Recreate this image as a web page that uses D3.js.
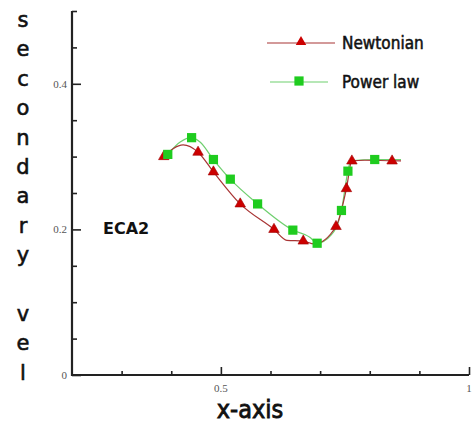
<!DOCTYPE html>
<html>
<head>
<meta charset="utf-8">
<script src="https://cdn.jsdelivr.net/npm/d3@7"></script>
<style>
  body { margin: 0; background: #fff; }
  svg { display: block; }
</style>
</head>
<body>
<div id="chart"></div>
<script>
// markers
const newtX = [0.385, 0.454, 0.485, 0.539, 0.607, 0.666, 0.732, 0.753, 0.764, 0.845];
const newtY = [0.300, 0.306, 0.279, 0.235, 0.200, 0.184, 0.204, 0.256, 0.294, 0.294];
const powX = [0.393, 0.441, 0.485, 0.519, 0.574, 0.645, 0.694, 0.743, 0.756, 0.810];
const powY = [0.303, 0.326, 0.296, 0.269, 0.235, 0.199, 0.181, 0.226, 0.280, 0.296];

// the curves behind the markers are denser than the markers
const newtLineX = [0.385, 0.424, 0.454, 0.485, 0.539, 0.607, 0.633, 0.666, 0.688, 0.732, 0.753, 0.764, 0.790, 0.863];
const newtLineY = [0.300, 0.316, 0.306, 0.279, 0.235, 0.200, 0.185, 0.184, 0.180, 0.204, 0.256, 0.294, 0.295, 0.294];
const powLineX = [0.393, 0.418, 0.441, 0.458, 0.485, 0.519, 0.574, 0.645, 0.680, 0.694, 0.722, 0.743, 0.756, 0.762, 0.810, 0.863];
const powLineY = [0.303, 0.320, 0.326, 0.320, 0.296, 0.269, 0.235, 0.199, 0.189, 0.181, 0.192, 0.226, 0.280, 0.294, 0.296, 0.296];

const xMajor = [0.5, 1];
const xMinor = [0.3, 0.4, 0.6, 0.7, 0.8, 0.9];
const yMajor = [0, 0.2, 0.4];
const yMinor = [0.05, 0.1, 0.15, 0.25, 0.3, 0.35, 0.45, 0.5];

const seriesNames = ["Newtonian", "Power law"];
const yTitle = "secondary vel";
const xTitle = "x-axis";
const caseLabel = "ECA2";

const W = 474, H = 431;
const x = d3.scaleLinear().domain([0.2, 1]).range([72, 469]);
const y = d3.scaleLinear().domain([0, 0.5]).range([375, 11]);

const svg = d3.select("#chart").append("svg")
  .attr("width", W)
  .attr("height", H);

const red = "#a83434", redFill = "#cc0000";
const green = "#6fcf6f", greenFill = "#1fcc1f";
const ink = "#222";

// axes
const xAx = svg.append("g").attr("transform", `translate(0,${y(0)})`);
xAx.call(d3.axisTop(x).tickValues(xMajor).tickSize(8).tickFormat(""));
xAx.call(g => g.append("g").call(d3.axisTop(x).tickValues(xMinor).tickSize(4).tickFormat("")));
xAx.selectAll(".domain").remove();
xAx.append("line").attr("x1", x(0.2) - 1).attr("x2", x(1)).attr("stroke", ink).attr("stroke-width", 2.2);
xAx.selectAll(".tick line").attr("stroke", ink).attr("stroke-width", 1.6);
xAx.selectAll(".xlab").data(xMajor).enter().append("text")
  .attr("x", d => x(d))
  .attr("y", 17)
  .attr("text-anchor", "middle")
  .attr("font-family", "Liberation Serif, serif")
  .attr("font-size", 11)
  .attr("fill", "#555")
  .text(d => d3.format("")(d));

const yAx = svg.append("g").attr("transform", `translate(${x(0.2)},0)`);
yAx.call(d3.axisRight(y).tickValues(yMajor).tickSize(9).tickFormat(""));
yAx.call(g => g.append("g").call(d3.axisRight(y).tickValues(yMinor).tickSize(5).tickFormat("")));
yAx.selectAll(".domain").remove();
yAx.append("line").attr("y1", y(0.5)).attr("y2", y(0) + 1).attr("stroke", ink).attr("stroke-width", 2.2);
yAx.selectAll(".tick line").attr("stroke", ink).attr("stroke-width", 1.6);
yAx.selectAll(".ylab").data(yMajor).enter().append("text")
  .attr("x", -5)
  .attr("y", d => y(d) + 4)
  .attr("text-anchor", "end")
  .attr("font-family", "Liberation Serif, serif")
  .attr("font-size", 11)
  .attr("fill", "#555")
  .text(d => d3.format("")(d));

// curves
const line = d3.line().x(d => x(d[0])).y(d => y(d[1])).curve(d3.curveMonotoneX);

svg.append("path")
  .datum(d3.zip(powLineX, powLineY))
  .attr("fill", "none")
  .attr("stroke", green)
  .attr("stroke-width", 1.2)
  .attr("d", line);

svg.append("path")
  .datum(d3.zip(newtLineX, newtLineY))
  .attr("fill", "none")
  .attr("stroke", red)
  .attr("stroke-width", 1.2)
  .attr("d", line);

const tri = d3.symbol().type(d3.symbolTriangle).size(48);
const sq = d3.symbol().type(d3.symbolSquare).size(85);

svg.selectAll(".tri").data(d3.zip(newtX, newtY)).enter().append("path")
  .attr("class", "tri")
  .attr("transform", d => `translate(${x(d[0])},${y(d[1])})`)
  .attr("d", tri)
  .attr("fill", redFill)
  .attr("stroke", "#a00000")
  .attr("stroke-width", 0.6);

svg.selectAll(".sq").data(d3.zip(powX, powY)).enter().append("path")
  .attr("class", "sq")
  .attr("transform", d => `translate(${x(d[0])},${y(d[1])})`)
  .attr("d", sq)
  .attr("fill", greenFill);

// legend
const leg = svg.append("g");
const legRows = [
  { name: seriesNames[0], x1: 267, x2: 335, cy: 43, stroke: red, sym: tri, fill: redFill },
  { name: seriesNames[1], x1: 270, x2: 328, cy: 82, stroke: green, sym: sq, fill: greenFill }
];
legRows.forEach(r => {
  leg.append("line")
    .attr("x1", r.x1).attr("x2", r.x2)
    .attr("y1", r.cy).attr("y2", r.cy)
    .attr("stroke", r.stroke).attr("stroke-width", 1.2);
  leg.append("path")
    .attr("transform", `translate(${(r.x1 + r.x2) / 2},${r.cy - 1})`)
    .attr("d", r.sym)
    .attr("fill", r.fill);
  leg.append("text")
    .attr("x", 342)
    .attr("y", r.cy + 6)
    .attr("font-family", "DejaVu Sans Condensed, DejaVu Sans, sans-serif")
    .attr("font-size", 17)
    .attr("fill", "#111")
    .attr("stroke", "#111")
    .attr("stroke-width", 0.5)
    .text(r.name);
});

// case label
svg.append("text")
  .attr("x", 103)
  .attr("y", 234)
  .attr("font-family", "DejaVu Sans, sans-serif")
  .attr("font-weight", "bold")
  .attr("font-size", 16)
  .attr("fill", "#111")
  .text(caseLabel);

// stacked y title
svg.append("g").selectAll("text")
  .data(yTitle.split(""))
  .enter().append("text")
  .attr("x", 23)
  .attr("y", (d, i) => 27 + i * 29.4)
  .attr("text-anchor", "middle")
  .attr("font-family", "DejaVu Sans, sans-serif")
  .attr("font-size", 21)
  .attr("fill", "#111")
  .attr("stroke", "#111")
  .attr("stroke-width", 0.6)
  .text(d => d);

svg.append("text")
  .attr("x", 250)
  .attr("y", 418)
  .attr("text-anchor", "middle")
  .attr("font-family", "DejaVu Sans Condensed, DejaVu Sans, sans-serif")
  .attr("font-size", 25)
  .attr("fill", "#111")
  .attr("stroke", "#111")
  .attr("stroke-width", 0.8)
  .text(xTitle);
</script>
</body>
</html>
